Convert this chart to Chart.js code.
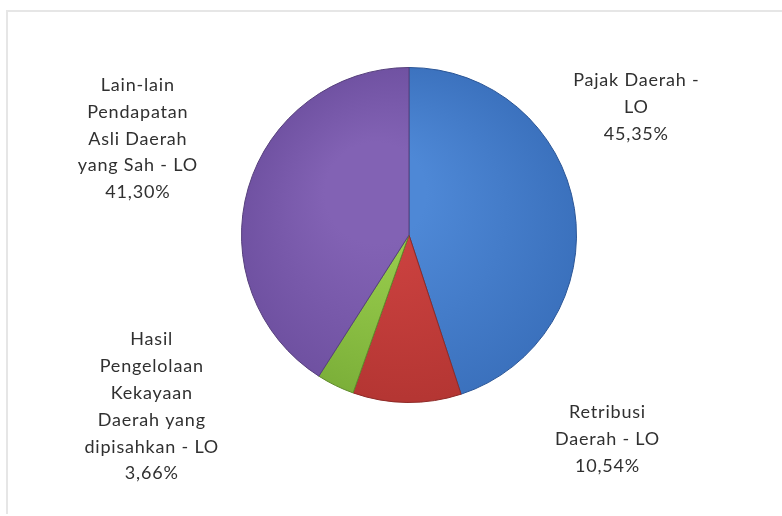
<!DOCTYPE html>
<html>
<head>
<meta charset="utf-8">
<script src="https://cdn.jsdelivr.net/npm/chart.js@4.4.0/dist/chart.umd.min.js"></script>
<style>
  html, body { margin: 0; padding: 0; background: #fff; }
  #wrap { position: relative; width: 782px; height: 516px; }
  #frame { position: absolute; left: 6px; top: 10px; right: 0; bottom: 2px;
           border-top: 2px solid #e6e6e6; border-left: 2px solid #e6e6e6; }
  canvas { position: absolute; left: 0; top: 0; }
</style>
</head>
<body>
<div id="wrap">
  <div id="frame"></div>
  <canvas id="pie" width="782" height="516"></canvas>
</div>
<script>
// data
var kategori = [
    "Pajak Daerah -\nLO",
    "Retribusi\nDaerah - LO",
    "Hasil\nPengelolaan\nKekayaan\nDaerah yang\ndipisahkan - LO",
    "Lain-lain\nPendapatan\nAsli Daerah\nyang Sah - LO"
];
var persen = [45.35, 10.54, 3.66, 41.30];

// slice colours (light, dark) and label placement in pie radii
var warnaTerang = ["#4e88d6", "#cc4240", "#98cc4c", "#8262b4"];
var warnaGelap = ["#3a70bc", "#b33532", "#7aae38", "#6e50a0"];
var posisiLabel = [[1.357, -0.762], [1.185, 1.22], [-1.536, 1.024], [-1.619, -0.574]];

function isiSlice(ctx) {
    var chart = ctx.chart;
    var area = chart.chartArea;
    if (!area) { return warnaTerang[ctx.dataIndex]; }
    var cx = (area.left + area.right) / 2;
    var cy = (area.top + area.bottom) / 2;
    var r = Math.min(area.right - area.left, area.bottom - area.top) / 2;
    var g = chart.ctx.createRadialGradient(cx - r * 0.2, cy - r * 0.25, r * 0.3, cx, cy, r * 1.05);
    g.addColorStop(0, warnaTerang[ctx.dataIndex]);
    g.addColorStop(1, warnaGelap[ctx.dataIndex]);
    return g;
}

var labelPlugin = {
    id: "labelPie",
    afterDraw: function (chart) {
        var ctx = chart.ctx;
        var arcs = chart.getDatasetMeta(0).data;
        ctx.save();
        ctx.font = "18px Lato";
        ctx.letterSpacing = "0.8px";
        ctx.fillStyle = "#303030";
        ctx.textAlign = "center";
        ctx.textBaseline = "middle";
        var lh = 26.8;
        arcs.forEach(function (arc, i) {
            var lines = kategori[i].split("\n");
            lines.push(persen[i].toFixed(2).replace(".", ",") + "%");
            var x = arc.x + posisiLabel[i][0] * arc.outerRadius;
            var y = arc.y + posisiLabel[i][1] * arc.outerRadius;
            var y0 = y - (lines.length - 1) * lh / 2;
            lines.forEach(function (t, k) {
                ctx.fillText(t, x, y0 + k * lh);
            });
        });
        ctx.restore();
    }
};

new Chart(document.getElementById("pie").getContext("2d"), {
    type: "pie",
    data: {
        labels: kategori,
        datasets: [{
            data: persen,
            backgroundColor: isiSlice,
            borderColor: ["#2a5596", "#8e2a27", "#5f8a2b", "#56407c"],
            borderWidth: 1
        }]
    },
    options: {
        responsive: false,
        animation: false,
        layout: { padding: { left: 241, right: 205, top: 67, bottom: 113 } },
        plugins: {
            legend: { display: false },
            tooltip: { enabled: false }
        }
    },
    plugins: [labelPlugin]
});
</script>
</body>
</html>
